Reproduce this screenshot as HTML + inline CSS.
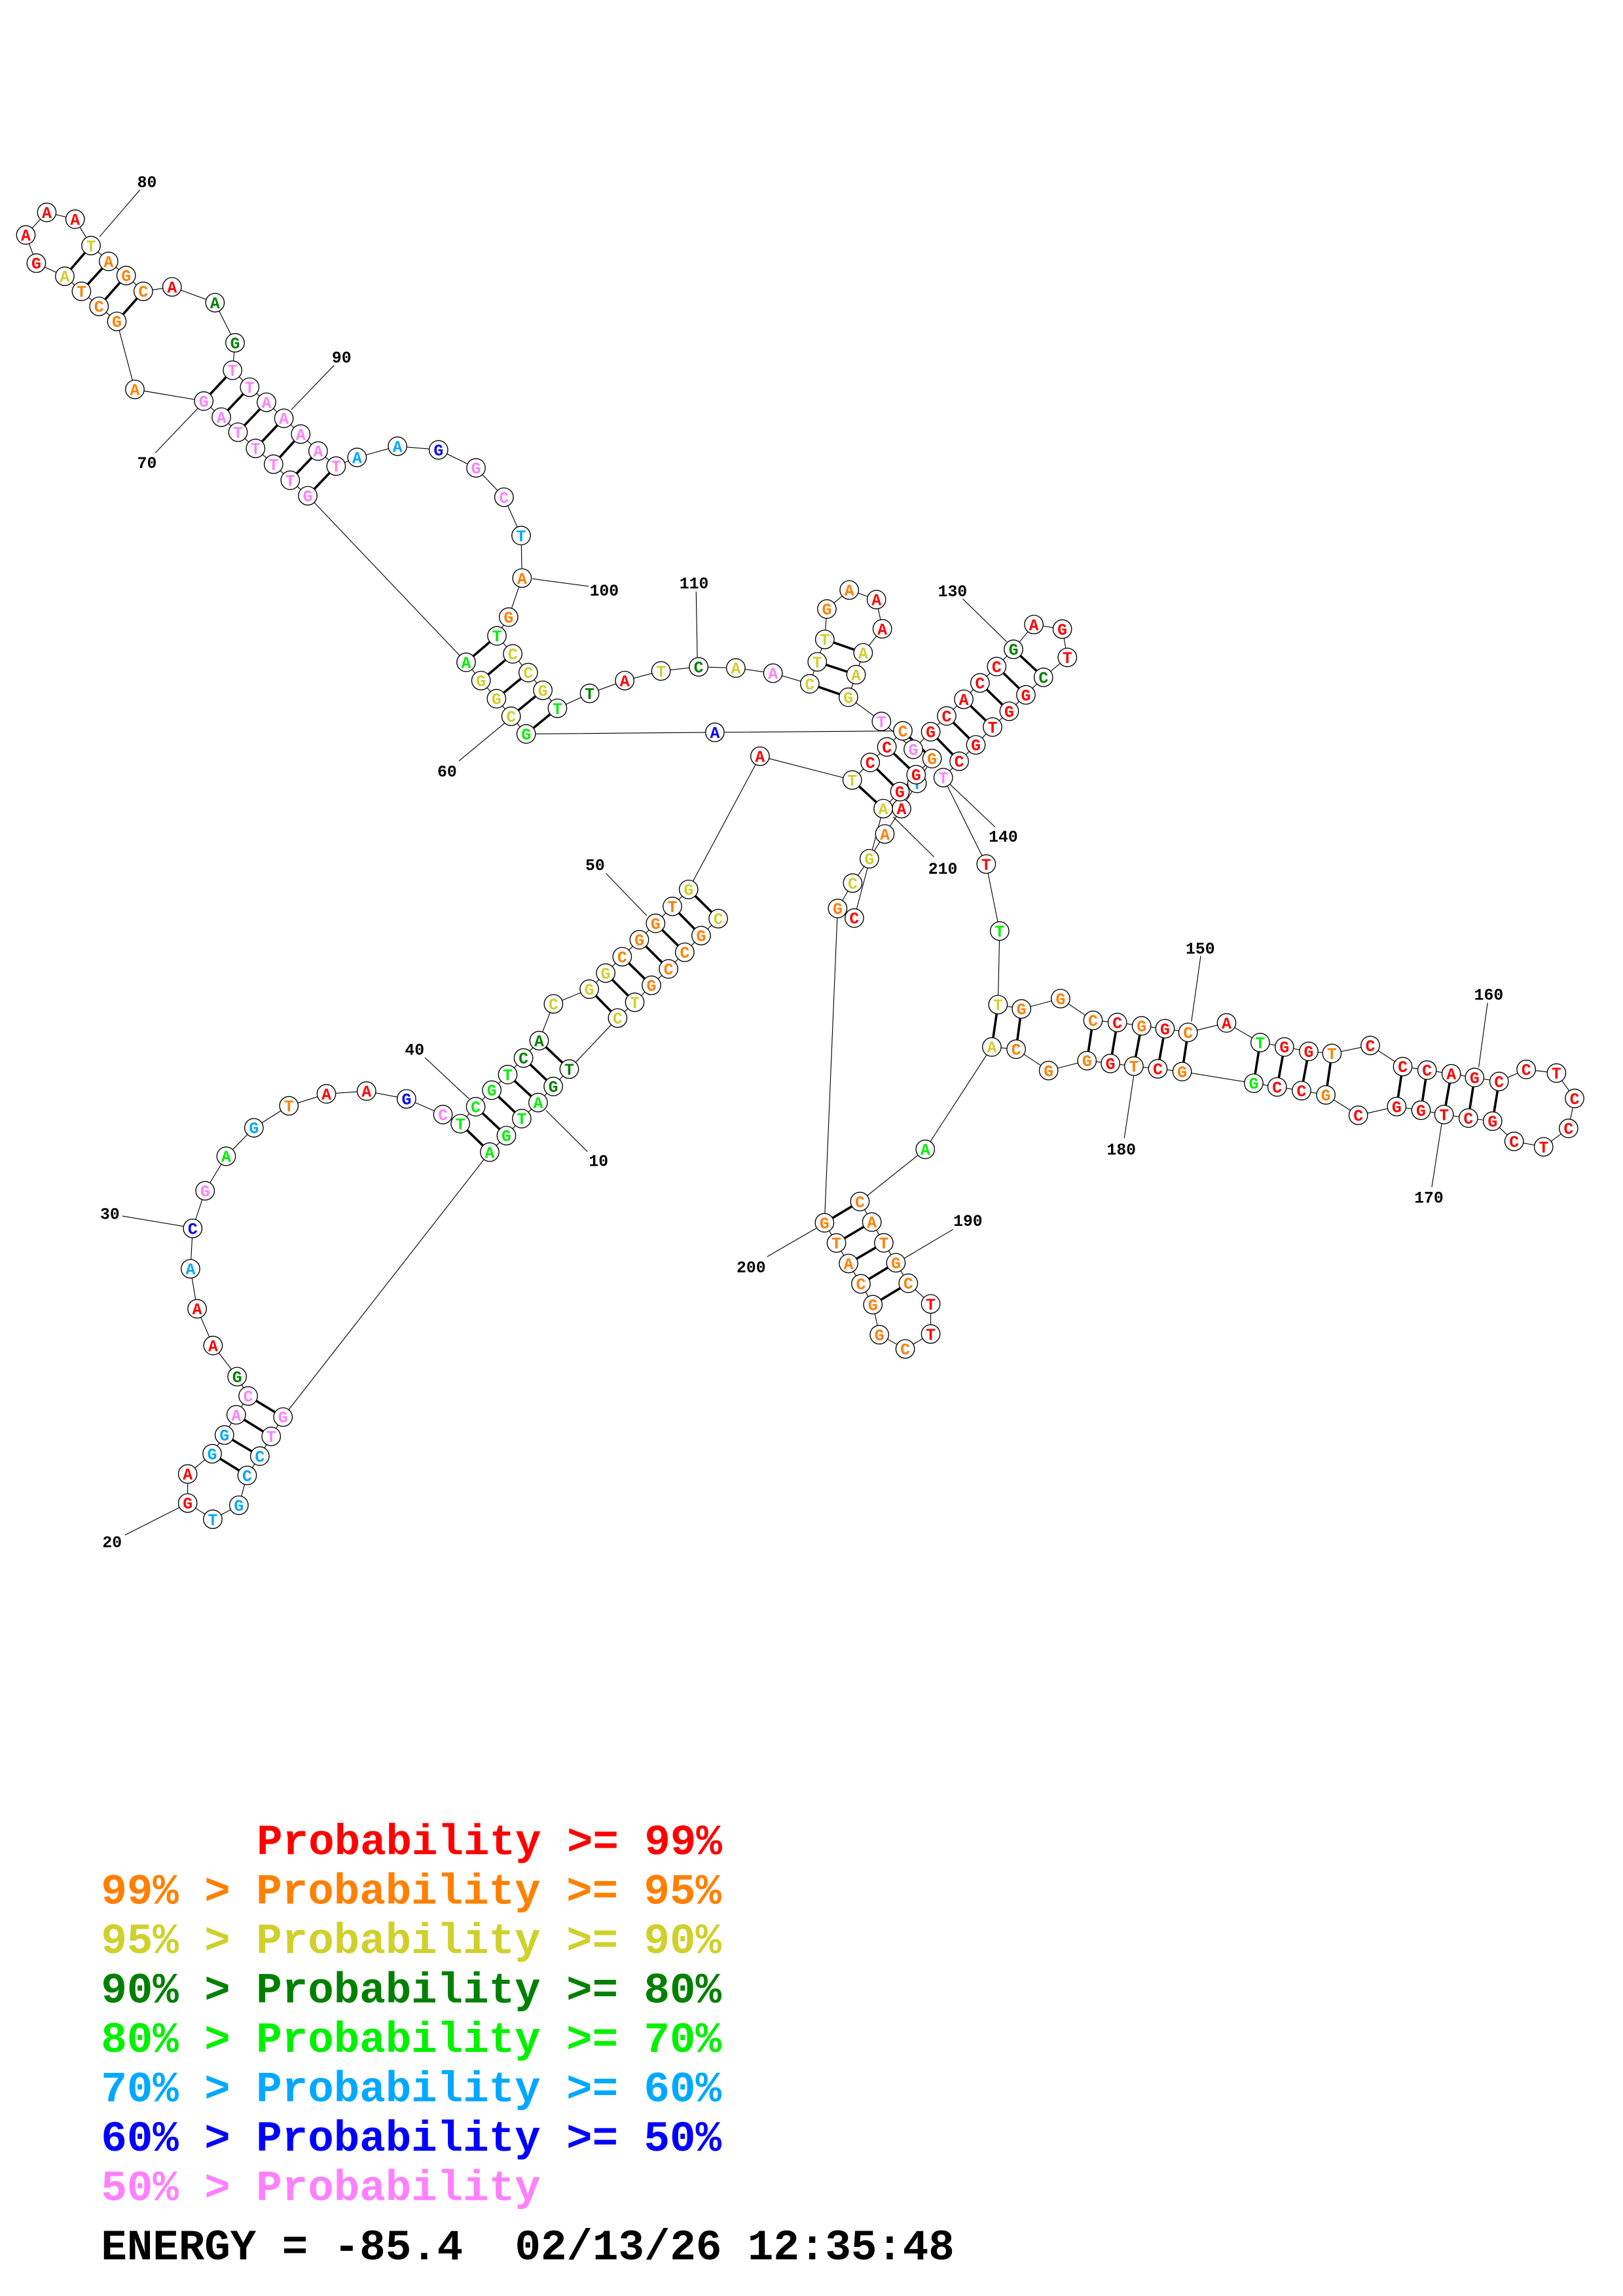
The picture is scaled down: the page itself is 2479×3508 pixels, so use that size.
<!DOCTYPE html>
<html><head><meta charset="utf-8"><style>
html,body{margin:0;padding:0;background:#fff;}
svg{display:block;}
.nd circle{fill:#fff;stroke:#000;stroke-width:.6;}
.nd text{font-family:"Liberation Mono",monospace;font-weight:bold;font-size:11px;text-anchor:middle;}
.r{fill:#ff0000}.o{fill:#ff8000}.y{fill:#d0d02c}.d{fill:#008000}.g{fill:#00f000}.c{fill:#00a8ff}.b{fill:#0000ff}.p{fill:#ff80ff}
.lb{font-family:"Liberation Mono",monospace;font-weight:bold;font-size:11px;text-anchor:middle;fill:#000;}
.lg{font-family:"Liberation Mono",monospace;font-weight:bold;font-size:29.2px;}
</style></head><body>
<svg width="2479" height="3508" viewBox="0 0 1100 1556.6" preserveAspectRatio="none" xmlns="http://www.w3.org/2000/svg">
<rect width="1100" height="1556.6" fill="#fff"/>
<polyline fill="none" stroke="#000" stroke-width="0.5" points="486.8,622.8 475.2,634.3 464.1,645.6 453.1,656.9 441.5,668 430.2,679.5 418.6,690.2 385.8,724.8 375,736.6 364.7,747.5 353.6,758.4 343.2,769.9 331.9,781.1 191.8,960.7 183.8,973.8 176.1,987.2 167.5,1000.3 161.9,1020.5 144.2,1030 127.2,1019 127.2,999.3 143.8,985.6 152.1,972.9 160.1,959.2 168.2,946.4 160.7,933.3 144.4,912.2 133.6,887.3 129.1,860.2 130.6,832.8 139,807.3 153.3,783.9 172.1,764.6 195.8,749.7 221.2,741.6 248.4,739.7 275.5,745 300.2,755.6 312,761.8 322.4,750.3 333.3,739.1 344.1,728.5 354.8,717.3 365.4,705.5 375.1,680.6 399.4,670.6 410.5,659.7 421.7,648.6 433.3,637.1 444.3,626 455.7,614.5 466.7,603 515.1,512.7 577.6,528.8 589.8,516.9 601.1,506.4 611.9,495.5 484.5,496.5 356.6,497.6 346.4,485.6 336.5,473.7 326,461.4 315.9,449 208.6,336.1 196.7,325.6 185.4,314.7 173.2,304 161.3,293 150,282.8 138.1,271.9 91.4,264 79.2,217.9 67.1,207.7 55.2,197.5 43.9,187.3 24.6,178.4 17.5,159.3 31.7,144 50.9,148.6 61.7,166.5 73.6,177.2 85.5,186.8 97.1,197.5 116.6,194.5 145.7,205.2 159.3,232.4 157.6,251 169.2,262.5 180.6,272.7 192.4,283.6 203.8,294.3 215.6,305.8 227.8,316 242,310.1 269.4,302.5 297.2,305 322.6,317.2 341.6,337.1 353.2,363.1 353.8,391.9 344.7,418.4 336.8,431.1 347.5,443.3 358,456 367.9,468 377.8,480.2 399.6,470.1 423.4,461.4 448,454.9 473.5,452.1 498.7,452.9 523.9,456.4 548.8,463.6 553.9,448.7 559,433.5 560.4,412.9 575.6,400 594,406.5 598,426.3 585,442.6 580.2,457.4 575,472.7 597.4,489.1 619,508 630.8,496.1 641.6,485.4 653.2,474.1 664.2,463 675.5,451.9 686.9,440.2 700.7,423.4 720,426.5 723.4,445.7 707.2,459.2 695.3,471.1 684,482.2 672.7,492.9 661.4,505 650.1,516.1 639.3,527.2 668.4,585.8 677.5,631.2 676.4,681.1 692.3,684 718.8,677 740.8,691.8 757.3,693.2 773.7,695.5 789.6,697.4 805.2,699.9 831.3,693.5 854.1,706.8 870.5,709.8 887,712.8 902.7,714.2 928.7,708.8 950.7,723.1 967.2,725.5 983.6,728 999.4,730.5 1016,733.2 1034.4,725 1054.9,727.5 1067.2,744.7 1063.1,765 1046.2,777.5 1026.2,773.8 1011.6,760.1 995.2,758 978.7,755.6 963.1,752.7 946.6,750.2 920.6,756.1 898.6,742.3 882.1,739.4 865.6,736.9 849.7,734.4 801.2,726.5 784.7,724.6 768.5,722.8 752.6,721 736.7,719.1 710.7,725.8 688.7,711.3 672.2,709.8 627.1,779.2 582.8,814.6 590.9,828.5 599,842.6 607.2,856.1 615.6,870 630.8,884 630.8,904.4 613.5,914.5 596,904.9 591.6,884.5 583.5,870.4 575.1,856.6 566.9,842.7 558.8,829 567.7,615.9 577.9,598.7 589.2,582.2 599.7,565.4 611,548.2 621.5,531.1 631.7,514.3 620.9,525.2 609.9,536.7 598.6,548.2 579,622.4"/>
<path fill="none" stroke="#000" stroke-width="1.6" d="
M466.7,603L486.8,622.8 M455.7,614.5L475.2,634.3 M444.3,626L464.1,645.6 M433.3,637.1L453.1,656.9 M421.7,648.6L441.5,668 M410.5,659.7L430.2,679.5 M399.4,670.6L418.6,690.2
M365.4,705.5L385.8,724.8 M354.8,717.3L375,736.6 M344.1,728.5L364.7,747.5 M333.3,739.1L353.6,758.4 M322.4,750.3L343.2,769.9 M312,761.8L331.9,781.1
M168.2,946.4L191.8,960.7 M160.1,959.2L183.8,973.8 M152.1,972.9L176.1,987.2 M143.8,985.6L167.5,1000.3
M157.6,251L138.1,271.9 M169.2,262.5L150,282.8 M180.6,272.7L161.3,293 M192.4,283.6L173.2,304 M203.8,294.3L185.4,314.7 M215.6,305.8L196.7,325.6 M227.8,316L208.6,336.1
M97.1,197.5L79.2,217.9 M85.5,186.8L67.1,207.7 M73.6,177.2L55.2,197.5 M61.7,166.5L43.9,187.3
M377.8,480.2L356.6,497.6 M367.9,468L346.4,485.6 M358,456L336.5,473.7 M347.5,443.3L326,461.4 M336.8,431.1L315.9,449
M575,472.7L548.8,463.6 M580.2,457.4L553.9,448.7 M585,442.6L559,433.5
M650.1,516.1L630.8,496.1 M661.4,505L641.6,485.4 M672.7,492.9L653.2,474.1 M684,482.2L664.2,463 M695.3,471.1L675.5,451.9 M707.2,459.2L686.9,440.2
M611.9,495.5L631.7,514.3 M601.1,506.4L620.9,525.2 M589.8,516.9L609.9,536.7 M577.6,528.8L598.6,548.2
M676.4,681.1L672.2,709.8 M692.3,684L688.7,711.3 M740.8,691.8L736.7,719.1 M757.3,693.2L752.6,721 M773.7,695.5L768.5,722.8 M789.6,697.4L784.7,724.6 M805.2,699.9L801.2,726.5
M854.1,706.8L849.7,734.4 M870.5,709.8L865.6,736.9 M887,712.8L882.1,739.4 M902.7,714.2L898.6,742.3
M950.7,723.1L946.6,750.2 M967.2,725.5L963.1,752.7 M983.6,728L978.7,755.6 M999.4,730.5L995.2,758 M1016,733.2L1011.6,760.1
M582.8,814.6L558.8,829 M590.9,828.5L566.9,842.7 M599,842.6L575.1,856.6 M607.2,856.1L583.5,870.4 M615.6,870L591.6,884.5"/>
<path fill="none" stroke="#000" stroke-width="0.5" d="
M398.2,780.8L370,752.8 M121.6,1022L84.7,1040.7 M125,831.5L82.9,824.4 M317.9,745L288,717 M438.4,620.9L410.7,592.1 M342.2,490.1L311,515.9
M134.4,276.5L105.3,307 M67.4,160.6L94.8,128.8 M197.5,277.7L226.4,247.7 M360.8,392.4L399,397.5 M472.6,445.5L471.8,401 M682.2,435L652.5,406
M643,530.9L674.3,560.6 M605.4,553.8L633.1,581 M807.5,692.5L813.8,648.1 M1002.2,723.6L1008.2,679.9 M978.1,755.4L970.4,804.9 M768.5,728.7L762,771.6
M613,853L646,833.4 M553.2,832.7L519.9,852"/>
<g class="lb">
<text x="405.7" y="790.4">10</text><text x="76" y="1049">20</text><text x="74.5" y="826.5">30</text><text x="281" y="715">40</text>
<text x="403.3" y="590">50</text><text x="303" y="526.5">60</text><text x="99.6" y="317.2">70</text><text x="99.6" y="127">80</text>
<text x="231.5" y="245.8">90</text><text x="409.5" y="403.7">100</text><text x="470.4" y="399">110</text><text x="645.6" y="404.2">130</text>
<text x="680" y="570.7">140</text><text x="813.5" y="646.6">150</text><text x="1009" y="677.7">160</text><text x="968.4" y="815.3">170</text>
<text x="760" y="782.7">180</text><text x="656" y="831.2">190</text><text x="509.1" y="862.7">200</text><text x="639" y="592.3">210</text>
</g>
<g class="nd">
<g transform="translate(486.8,622.8)"><circle r="6.3"/><text y="3.8" class="y">C</text></g>
<g transform="translate(475.2,634.3)"><circle r="6.3"/><text y="3.8" class="o">G</text></g>
<g transform="translate(464.1,645.6)"><circle r="6.3"/><text y="3.8" class="o">C</text></g>
<g transform="translate(453.1,656.9)"><circle r="6.3"/><text y="3.8" class="o">C</text></g>
<g transform="translate(441.5,668)"><circle r="6.3"/><text y="3.8" class="o">G</text></g>
<g transform="translate(430.2,679.5)"><circle r="6.3"/><text y="3.8" class="y">T</text></g>
<g transform="translate(418.6,690.2)"><circle r="6.3"/><text y="3.8" class="y">C</text></g>
<g transform="translate(385.8,724.8)"><circle r="6.3"/><text y="3.8" class="d">T</text></g>
<g transform="translate(375,736.6)"><circle r="6.3"/><text y="3.8" class="d">G</text></g>
<g transform="translate(364.7,747.5)"><circle r="6.3"/><text y="3.8" class="g">A</text></g>
<g transform="translate(353.6,758.4)"><circle r="6.3"/><text y="3.8" class="g">T</text></g>
<g transform="translate(343.2,769.9)"><circle r="6.3"/><text y="3.8" class="g">G</text></g>
<g transform="translate(331.9,781.1)"><circle r="6.3"/><text y="3.8" class="g">A</text></g>
<g transform="translate(191.8,960.7)"><circle r="6.3"/><text y="3.8" class="p">G</text></g>
<g transform="translate(183.8,973.8)"><circle r="6.3"/><text y="3.8" class="p">T</text></g>
<g transform="translate(176.1,987.2)"><circle r="6.3"/><text y="3.8" class="c">C</text></g>
<g transform="translate(167.5,1000.3)"><circle r="6.3"/><text y="3.8" class="c">C</text></g>
<g transform="translate(161.9,1020.5)"><circle r="6.3"/><text y="3.8" class="c">G</text></g>
<g transform="translate(144.2,1030)"><circle r="6.3"/><text y="3.8" class="c">T</text></g>
<g transform="translate(127.2,1019)"><circle r="6.3"/><text y="3.8" class="r">G</text></g>
<g transform="translate(127.2,999.3)"><circle r="6.3"/><text y="3.8" class="r">A</text></g>
<g transform="translate(143.8,985.6)"><circle r="6.3"/><text y="3.8" class="c">G</text></g>
<g transform="translate(152.1,972.9)"><circle r="6.3"/><text y="3.8" class="c">G</text></g>
<g transform="translate(160.1,959.2)"><circle r="6.3"/><text y="3.8" class="p">A</text></g>
<g transform="translate(168.2,946.4)"><circle r="6.3"/><text y="3.8" class="p">C</text></g>
<g transform="translate(160.7,933.3)"><circle r="6.3"/><text y="3.8" class="d">G</text></g>
<g transform="translate(144.4,912.2)"><circle r="6.3"/><text y="3.8" class="r">A</text></g>
<g transform="translate(133.6,887.3)"><circle r="6.3"/><text y="3.8" class="r">A</text></g>
<g transform="translate(129.1,860.2)"><circle r="6.3"/><text y="3.8" class="c">A</text></g>
<g transform="translate(130.6,832.8)"><circle r="6.3"/><text y="3.8" class="b">C</text></g>
<g transform="translate(139,807.3)"><circle r="6.3"/><text y="3.8" class="p">G</text></g>
<g transform="translate(153.3,783.9)"><circle r="6.3"/><text y="3.8" class="g">A</text></g>
<g transform="translate(172.1,764.6)"><circle r="6.3"/><text y="3.8" class="c">G</text></g>
<g transform="translate(195.8,749.7)"><circle r="6.3"/><text y="3.8" class="o">T</text></g>
<g transform="translate(221.2,741.6)"><circle r="6.3"/><text y="3.8" class="r">A</text></g>
<g transform="translate(248.4,739.7)"><circle r="6.3"/><text y="3.8" class="r">A</text></g>
<g transform="translate(275.5,745)"><circle r="6.3"/><text y="3.8" class="b">G</text></g>
<g transform="translate(300.2,755.6)"><circle r="6.3"/><text y="3.8" class="p">C</text></g>
<g transform="translate(312,761.8)"><circle r="6.3"/><text y="3.8" class="g">T</text></g>
<g transform="translate(322.4,750.3)"><circle r="6.3"/><text y="3.8" class="g">C</text></g>
<g transform="translate(333.3,739.1)"><circle r="6.3"/><text y="3.8" class="g">G</text></g>
<g transform="translate(344.1,728.5)"><circle r="6.3"/><text y="3.8" class="g">T</text></g>
<g transform="translate(354.8,717.3)"><circle r="6.3"/><text y="3.8" class="d">C</text></g>
<g transform="translate(365.4,705.5)"><circle r="6.3"/><text y="3.8" class="d">A</text></g>
<g transform="translate(375.1,680.6)"><circle r="6.3"/><text y="3.8" class="y">C</text></g>
<g transform="translate(399.4,670.6)"><circle r="6.3"/><text y="3.8" class="y">G</text></g>
<g transform="translate(410.5,659.7)"><circle r="6.3"/><text y="3.8" class="y">G</text></g>
<g transform="translate(421.7,648.6)"><circle r="6.3"/><text y="3.8" class="o">C</text></g>
<g transform="translate(433.3,637.1)"><circle r="6.3"/><text y="3.8" class="o">G</text></g>
<g transform="translate(444.3,626)"><circle r="6.3"/><text y="3.8" class="o">G</text></g>
<g transform="translate(455.7,614.5)"><circle r="6.3"/><text y="3.8" class="o">T</text></g>
<g transform="translate(466.7,603)"><circle r="6.3"/><text y="3.8" class="y">G</text></g>
<g transform="translate(515.1,512.7)"><circle r="6.3"/><text y="3.8" class="r">A</text></g>
<g transform="translate(577.6,528.8)"><circle r="6.3"/><text y="3.8" class="y">T</text></g>
<g transform="translate(589.8,516.9)"><circle r="6.3"/><text y="3.8" class="r">C</text></g>
<g transform="translate(601.1,506.4)"><circle r="6.3"/><text y="3.8" class="r">C</text></g>
<g transform="translate(611.9,495.5)"><circle r="6.3"/><text y="3.8" class="o">C</text></g>
<g transform="translate(484.5,496.5)"><circle r="6.3"/><text y="3.8" class="b">A</text></g>
<g transform="translate(356.6,497.6)"><circle r="6.3"/><text y="3.8" class="g">G</text></g>
<g transform="translate(346.4,485.6)"><circle r="6.3"/><text y="3.8" class="y">C</text></g>
<g transform="translate(336.5,473.7)"><circle r="6.3"/><text y="3.8" class="y">G</text></g>
<g transform="translate(326,461.4)"><circle r="6.3"/><text y="3.8" class="y">G</text></g>
<g transform="translate(315.9,449)"><circle r="6.3"/><text y="3.8" class="g">A</text></g>
<g transform="translate(208.6,336.1)"><circle r="6.3"/><text y="3.8" class="p">G</text></g>
<g transform="translate(196.7,325.6)"><circle r="6.3"/><text y="3.8" class="p">T</text></g>
<g transform="translate(185.4,314.7)"><circle r="6.3"/><text y="3.8" class="p">T</text></g>
<g transform="translate(173.2,304)"><circle r="6.3"/><text y="3.8" class="p">T</text></g>
<g transform="translate(161.3,293)"><circle r="6.3"/><text y="3.8" class="p">T</text></g>
<g transform="translate(150,282.8)"><circle r="6.3"/><text y="3.8" class="p">A</text></g>
<g transform="translate(138.1,271.9)"><circle r="6.3"/><text y="3.8" class="p">G</text></g>
<g transform="translate(91.4,264)"><circle r="6.3"/><text y="3.8" class="o">A</text></g>
<g transform="translate(79.2,217.9)"><circle r="6.3"/><text y="3.8" class="o">G</text></g>
<g transform="translate(67.1,207.7)"><circle r="6.3"/><text y="3.8" class="o">C</text></g>
<g transform="translate(55.2,197.5)"><circle r="6.3"/><text y="3.8" class="o">T</text></g>
<g transform="translate(43.9,187.3)"><circle r="6.3"/><text y="3.8" class="y">A</text></g>
<g transform="translate(24.6,178.4)"><circle r="6.3"/><text y="3.8" class="r">G</text></g>
<g transform="translate(17.5,159.3)"><circle r="6.3"/><text y="3.8" class="r">A</text></g>
<g transform="translate(31.7,144)"><circle r="6.3"/><text y="3.8" class="r">A</text></g>
<g transform="translate(50.9,148.6)"><circle r="6.3"/><text y="3.8" class="r">A</text></g>
<g transform="translate(61.7,166.5)"><circle r="6.3"/><text y="3.8" class="y">T</text></g>
<g transform="translate(73.6,177.2)"><circle r="6.3"/><text y="3.8" class="o">A</text></g>
<g transform="translate(85.5,186.8)"><circle r="6.3"/><text y="3.8" class="o">G</text></g>
<g transform="translate(97.1,197.5)"><circle r="6.3"/><text y="3.8" class="o">C</text></g>
<g transform="translate(116.6,194.5)"><circle r="6.3"/><text y="3.8" class="r">A</text></g>
<g transform="translate(145.7,205.2)"><circle r="6.3"/><text y="3.8" class="d">A</text></g>
<g transform="translate(159.3,232.4)"><circle r="6.3"/><text y="3.8" class="d">G</text></g>
<g transform="translate(157.6,251)"><circle r="6.3"/><text y="3.8" class="p">T</text></g>
<g transform="translate(169.2,262.5)"><circle r="6.3"/><text y="3.8" class="p">T</text></g>
<g transform="translate(180.6,272.7)"><circle r="6.3"/><text y="3.8" class="p">A</text></g>
<g transform="translate(192.4,283.6)"><circle r="6.3"/><text y="3.8" class="p">A</text></g>
<g transform="translate(203.8,294.3)"><circle r="6.3"/><text y="3.8" class="p">A</text></g>
<g transform="translate(215.6,305.8)"><circle r="6.3"/><text y="3.8" class="p">A</text></g>
<g transform="translate(227.8,316)"><circle r="6.3"/><text y="3.8" class="p">T</text></g>
<g transform="translate(242,310.1)"><circle r="6.3"/><text y="3.8" class="c">A</text></g>
<g transform="translate(269.4,302.5)"><circle r="6.3"/><text y="3.8" class="c">A</text></g>
<g transform="translate(297.2,305)"><circle r="6.3"/><text y="3.8" class="b">G</text></g>
<g transform="translate(322.6,317.2)"><circle r="6.3"/><text y="3.8" class="p">G</text></g>
<g transform="translate(341.6,337.1)"><circle r="6.3"/><text y="3.8" class="p">C</text></g>
<g transform="translate(353.2,363.1)"><circle r="6.3"/><text y="3.8" class="c">T</text></g>
<g transform="translate(353.8,391.9)"><circle r="6.3"/><text y="3.8" class="o">A</text></g>
<g transform="translate(344.7,418.4)"><circle r="6.3"/><text y="3.8" class="o">G</text></g>
<g transform="translate(336.8,431.1)"><circle r="6.3"/><text y="3.8" class="g">T</text></g>
<g transform="translate(347.5,443.3)"><circle r="6.3"/><text y="3.8" class="y">C</text></g>
<g transform="translate(358,456)"><circle r="6.3"/><text y="3.8" class="y">C</text></g>
<g transform="translate(367.9,468)"><circle r="6.3"/><text y="3.8" class="y">G</text></g>
<g transform="translate(377.8,480.2)"><circle r="6.3"/><text y="3.8" class="g">T</text></g>
<g transform="translate(399.6,470.1)"><circle r="6.3"/><text y="3.8" class="d">T</text></g>
<g transform="translate(423.4,461.4)"><circle r="6.3"/><text y="3.8" class="r">A</text></g>
<g transform="translate(448,454.9)"><circle r="6.3"/><text y="3.8" class="y">T</text></g>
<g transform="translate(473.5,452.1)"><circle r="6.3"/><text y="3.8" class="d">C</text></g>
<g transform="translate(498.7,452.9)"><circle r="6.3"/><text y="3.8" class="y">A</text></g>
<g transform="translate(523.9,456.4)"><circle r="6.3"/><text y="3.8" class="p">A</text></g>
<g transform="translate(548.8,463.6)"><circle r="6.3"/><text y="3.8" class="y">C</text></g>
<g transform="translate(553.9,448.7)"><circle r="6.3"/><text y="3.8" class="y">T</text></g>
<g transform="translate(559,433.5)"><circle r="6.3"/><text y="3.8" class="y">T</text></g>
<g transform="translate(560.4,412.9)"><circle r="6.3"/><text y="3.8" class="o">G</text></g>
<g transform="translate(575.6,400)"><circle r="6.3"/><text y="3.8" class="o">A</text></g>
<g transform="translate(594,406.5)"><circle r="6.3"/><text y="3.8" class="r">A</text></g>
<g transform="translate(598,426.3)"><circle r="6.3"/><text y="3.8" class="r">A</text></g>
<g transform="translate(585,442.6)"><circle r="6.3"/><text y="3.8" class="y">A</text></g>
<g transform="translate(580.2,457.4)"><circle r="6.3"/><text y="3.8" class="y">A</text></g>
<g transform="translate(575,472.7)"><circle r="6.3"/><text y="3.8" class="y">G</text></g>
<g transform="translate(597.4,489.1)"><circle r="6.3"/><text y="3.8" class="p">T</text></g>
<g transform="translate(619,508)"><circle r="6.3"/><text y="3.8" class="p">G</text></g>
<g transform="translate(630.8,496.1)"><circle r="6.3"/><text y="3.8" class="r">G</text></g>
<g transform="translate(641.6,485.4)"><circle r="6.3"/><text y="3.8" class="r">C</text></g>
<g transform="translate(653.2,474.1)"><circle r="6.3"/><text y="3.8" class="r">A</text></g>
<g transform="translate(664.2,463)"><circle r="6.3"/><text y="3.8" class="r">C</text></g>
<g transform="translate(675.5,451.9)"><circle r="6.3"/><text y="3.8" class="r">C</text></g>
<g transform="translate(686.9,440.2)"><circle r="6.3"/><text y="3.8" class="d">G</text></g>
<g transform="translate(700.7,423.4)"><circle r="6.3"/><text y="3.8" class="r">A</text></g>
<g transform="translate(720,426.5)"><circle r="6.3"/><text y="3.8" class="r">G</text></g>
<g transform="translate(723.4,445.7)"><circle r="6.3"/><text y="3.8" class="r">T</text></g>
<g transform="translate(707.2,459.2)"><circle r="6.3"/><text y="3.8" class="d">C</text></g>
<g transform="translate(695.3,471.1)"><circle r="6.3"/><text y="3.8" class="r">G</text></g>
<g transform="translate(684,482.2)"><circle r="6.3"/><text y="3.8" class="r">G</text></g>
<g transform="translate(672.7,492.9)"><circle r="6.3"/><text y="3.8" class="r">T</text></g>
<g transform="translate(661.4,505)"><circle r="6.3"/><text y="3.8" class="r">G</text></g>
<g transform="translate(650.1,516.1)"><circle r="6.3"/><text y="3.8" class="r">C</text></g>
<g transform="translate(639.3,527.2)"><circle r="6.3"/><text y="3.8" class="p">T</text></g>
<g transform="translate(668.4,585.8)"><circle r="6.3"/><text y="3.8" class="r">T</text></g>
<g transform="translate(677.5,631.2)"><circle r="6.3"/><text y="3.8" class="g">T</text></g>
<g transform="translate(676.4,681.1)"><circle r="6.3"/><text y="3.8" class="y">T</text></g>
<g transform="translate(692.3,684)"><circle r="6.3"/><text y="3.8" class="o">G</text></g>
<g transform="translate(718.8,677)"><circle r="6.3"/><text y="3.8" class="o">G</text></g>
<g transform="translate(740.8,691.8)"><circle r="6.3"/><text y="3.8" class="o">C</text></g>
<g transform="translate(757.3,693.2)"><circle r="6.3"/><text y="3.8" class="r">C</text></g>
<g transform="translate(773.7,695.5)"><circle r="6.3"/><text y="3.8" class="o">G</text></g>
<g transform="translate(789.6,697.4)"><circle r="6.3"/><text y="3.8" class="r">G</text></g>
<g transform="translate(805.2,699.9)"><circle r="6.3"/><text y="3.8" class="o">C</text></g>
<g transform="translate(831.3,693.5)"><circle r="6.3"/><text y="3.8" class="r">A</text></g>
<g transform="translate(854.1,706.8)"><circle r="6.3"/><text y="3.8" class="g">T</text></g>
<g transform="translate(870.5,709.8)"><circle r="6.3"/><text y="3.8" class="r">G</text></g>
<g transform="translate(887,712.8)"><circle r="6.3"/><text y="3.8" class="r">G</text></g>
<g transform="translate(902.7,714.2)"><circle r="6.3"/><text y="3.8" class="o">T</text></g>
<g transform="translate(928.7,708.8)"><circle r="6.3"/><text y="3.8" class="r">C</text></g>
<g transform="translate(950.7,723.1)"><circle r="6.3"/><text y="3.8" class="r">C</text></g>
<g transform="translate(967.2,725.5)"><circle r="6.3"/><text y="3.8" class="r">C</text></g>
<g transform="translate(983.6,728)"><circle r="6.3"/><text y="3.8" class="r">A</text></g>
<g transform="translate(999.4,730.5)"><circle r="6.3"/><text y="3.8" class="r">G</text></g>
<g transform="translate(1016,733.2)"><circle r="6.3"/><text y="3.8" class="r">C</text></g>
<g transform="translate(1034.4,725)"><circle r="6.3"/><text y="3.8" class="r">C</text></g>
<g transform="translate(1054.9,727.5)"><circle r="6.3"/><text y="3.8" class="r">T</text></g>
<g transform="translate(1067.2,744.7)"><circle r="6.3"/><text y="3.8" class="r">C</text></g>
<g transform="translate(1063.1,765)"><circle r="6.3"/><text y="3.8" class="r">C</text></g>
<g transform="translate(1046.2,777.5)"><circle r="6.3"/><text y="3.8" class="r">T</text></g>
<g transform="translate(1026.2,773.8)"><circle r="6.3"/><text y="3.8" class="r">C</text></g>
<g transform="translate(1011.6,760.1)"><circle r="6.3"/><text y="3.8" class="r">G</text></g>
<g transform="translate(995.2,758)"><circle r="6.3"/><text y="3.8" class="r">C</text></g>
<g transform="translate(978.7,755.6)"><circle r="6.3"/><text y="3.8" class="r">T</text></g>
<g transform="translate(963.1,752.7)"><circle r="6.3"/><text y="3.8" class="r">G</text></g>
<g transform="translate(946.6,750.2)"><circle r="6.3"/><text y="3.8" class="r">G</text></g>
<g transform="translate(920.6,756.1)"><circle r="6.3"/><text y="3.8" class="r">C</text></g>
<g transform="translate(898.6,742.3)"><circle r="6.3"/><text y="3.8" class="o">G</text></g>
<g transform="translate(882.1,739.4)"><circle r="6.3"/><text y="3.8" class="r">C</text></g>
<g transform="translate(865.6,736.9)"><circle r="6.3"/><text y="3.8" class="r">C</text></g>
<g transform="translate(849.7,734.4)"><circle r="6.3"/><text y="3.8" class="g">G</text></g>
<g transform="translate(801.2,726.5)"><circle r="6.3"/><text y="3.8" class="o">G</text></g>
<g transform="translate(784.7,724.6)"><circle r="6.3"/><text y="3.8" class="r">C</text></g>
<g transform="translate(768.5,722.8)"><circle r="6.3"/><text y="3.8" class="o">T</text></g>
<g transform="translate(752.6,721)"><circle r="6.3"/><text y="3.8" class="r">G</text></g>
<g transform="translate(736.7,719.1)"><circle r="6.3"/><text y="3.8" class="o">G</text></g>
<g transform="translate(710.7,725.8)"><circle r="6.3"/><text y="3.8" class="o">G</text></g>
<g transform="translate(688.7,711.3)"><circle r="6.3"/><text y="3.8" class="o">C</text></g>
<g transform="translate(672.2,709.8)"><circle r="6.3"/><text y="3.8" class="y">A</text></g>
<g transform="translate(627.1,779.2)"><circle r="6.3"/><text y="3.8" class="g">A</text></g>
<g transform="translate(582.8,814.6)"><circle r="6.3"/><text y="3.8" class="o">C</text></g>
<g transform="translate(590.9,828.5)"><circle r="6.3"/><text y="3.8" class="o">A</text></g>
<g transform="translate(599,842.6)"><circle r="6.3"/><text y="3.8" class="o">T</text></g>
<g transform="translate(607.2,856.1)"><circle r="6.3"/><text y="3.8" class="o">G</text></g>
<g transform="translate(615.6,870)"><circle r="6.3"/><text y="3.8" class="o">C</text></g>
<g transform="translate(630.8,884)"><circle r="6.3"/><text y="3.8" class="r">T</text></g>
<g transform="translate(630.8,904.4)"><circle r="6.3"/><text y="3.8" class="r">T</text></g>
<g transform="translate(613.5,914.5)"><circle r="6.3"/><text y="3.8" class="o">C</text></g>
<g transform="translate(596,904.9)"><circle r="6.3"/><text y="3.8" class="o">G</text></g>
<g transform="translate(591.6,884.5)"><circle r="6.3"/><text y="3.8" class="o">G</text></g>
<g transform="translate(583.5,870.4)"><circle r="6.3"/><text y="3.8" class="o">C</text></g>
<g transform="translate(575.1,856.6)"><circle r="6.3"/><text y="3.8" class="o">A</text></g>
<g transform="translate(566.9,842.7)"><circle r="6.3"/><text y="3.8" class="o">T</text></g>
<g transform="translate(558.8,829)"><circle r="6.3"/><text y="3.8" class="o">G</text></g>
<g transform="translate(567.7,615.9)"><circle r="6.3"/><text y="3.8" class="o">G</text></g>
<g transform="translate(577.9,598.7)"><circle r="6.3"/><text y="3.8" class="y">C</text></g>
<g transform="translate(589.2,582.2)"><circle r="6.3"/><text y="3.8" class="y">G</text></g>
<g transform="translate(599.7,565.4)"><circle r="6.3"/><text y="3.8" class="o">A</text></g>
<g transform="translate(611,548.2)"><circle r="6.3"/><text y="3.8" class="r">A</text></g>
<g transform="translate(621.5,531.1)"><circle r="6.3"/><text y="3.8" class="c">T</text></g>
<g transform="translate(631.7,514.3)"><circle r="6.3"/><text y="3.8" class="o">G</text></g>
<g transform="translate(620.9,525.2)"><circle r="6.3"/><text y="3.8" class="r">G</text></g>
<g transform="translate(609.9,536.7)"><circle r="6.3"/><text y="3.8" class="r">G</text></g>
<g transform="translate(598.6,548.2)"><circle r="6.3"/><text y="3.8" class="y">A</text></g>
<g transform="translate(579,622.4)"><circle r="6.3"/><text y="3.8" class="r">C</text></g>
</g>
<g class="lg">
<text x="174" y="1257" class="r">Probability &gt;= 99%</text>
<text x="68.5" y="1290.5" class="o">99% &gt; Probability &gt;= 95%</text>
<text x="68.5" y="1324" class="y">95% &gt; Probability &gt;= 90%</text>
<text x="68.5" y="1357.5" class="d">90% &gt; Probability &gt;= 80%</text>
<text x="68.5" y="1391" class="g">80% &gt; Probability &gt;= 70%</text>
<text x="68.5" y="1424.5" class="c">70% &gt; Probability &gt;= 60%</text>
<text x="68.5" y="1458" class="b">60% &gt; Probability &gt;= 50%</text>
<text x="68.5" y="1491.5" class="p">50% &gt; Probability</text>
<text x="68.5" y="1531.7" fill="#000">ENERGY = -85.4</text>
<text x="349" y="1531.7" fill="#000">02/13/26 12:35:48</text>
</g>
</svg>
</body></html>
